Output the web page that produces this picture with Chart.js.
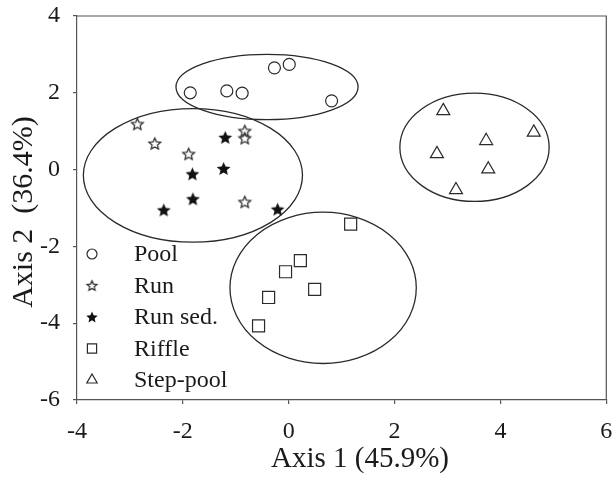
<!DOCTYPE html>
<html>
<head>
<meta charset="utf-8">
<script src="https://cdn.jsdelivr.net/npm/chart.js@4/dist/chart.umd.min.js"></script>
<style>
  html, body { margin: 0; padding: 0; background: #fff; }
  #wrap { width: 616px; height: 480px; }
</style>
</head>
<body>
<div id="wrap"><canvas id="c" width="616" height="480"></canvas></div>
<script>
// ─── Data ─────────────────────────────────────────────

const GROUPS = ['Pool', 'Run', 'Run sed.', 'Riffle', 'Step-pool'];

const POOL_X = [-1.86, -1.17, -0.88, -0.27, 0.01, 0.81];
const POOL_Y = [2.00, 2.05, 1.99, 2.65, 2.74, 1.79];

const RUN_X = [-2.86, -2.53, -1.89, -0.83, -0.83, -0.83];
const RUN_Y = [1.19, 0.68, 0.41, 1.01, 0.82, -0.84];

const RUNSED_X = [-1.20, -1.23, -1.82, -1.81, -2.36, -0.21];
const RUNSED_Y = [0.84, 0.03, -0.11, -0.76, -1.05, -1.03];

const RIFFLE_X = [1.17, 0.22, -0.06, 0.49, -0.38, -0.57];
const RIFFLE_Y = [-1.42, -2.37, -2.66, -3.12, -3.33, -4.07];

const STEP_X = [2.92, 4.63, 3.73, 2.80, 3.77, 3.16];
const STEP_Y = [1.53, 0.97, 0.75, 0.41, 0.01, -0.53];

// group ellipses: Pool, Run (+Run sed.), Riffle, Step-pool
const ELL_CX = [-0.41, -1.81, 0.65, 3.51];
const ELL_CY = [2.15, -0.15, -3.08, 0.58];
const ELL_RX = [1.72, 2.07, 1.76, 1.41];
const ELL_RY = [0.85, 1.74, 1.97, 1.41];

const X_TICKS = [-4, -2, 0, 2, 4, 6];
const Y_TICKS = [-6, -4, -2, 0, 2, 4];

const X_TITLE = 'Axis 1 (45.9%)';
const Y_TITLE = 'Axis 2  (36.4%)';

// ─── Helpers ──────────────────────────────────────────

const INK = '#2a2a2a';
const FONT = "'Liberation Serif', 'DejaVu Serif', serif";

function pts(xs, ys) { return xs.map((x, i) => ({ x, y: ys[i] })); }

function starCanvas(r, filled) {
  const size = Math.ceil(r * 2 + 4);
  const c = document.createElement('canvas');
  c.width = c.height = size;
  const g = c.getContext('2d');
  g.translate(size / 2, size / 2 + r * 0.1);
  g.beginPath();
  for (let i = 0; i < 10; i++) {
    const a = -Math.PI / 2 + i * Math.PI / 5;
    const rr = i % 2 ? r * 0.46 : r;
    g.lineTo(Math.cos(a) * rr, Math.sin(a) * rr);
  }
  g.closePath();
  if (filled) { g.fillStyle = '#111'; g.fill(); }
  else { g.strokeStyle = INK; g.lineWidth = 1.2; g.stroke(); }
  return c;
}

const STAR_OPEN = starCanvas(6.2, false);
const STAR_FULL = starCanvas(7.2, true);
const STAR_OPEN_S = starCanvas(5.2, false);
const STAR_FULL_S = starCanvas(6, true);

const STYLES = [
  { pointStyle: 'circle',   radius: 6,   legend: 'circle',    lr: 5 },
  { pointStyle: STAR_OPEN,  radius: 6,   legend: STAR_OPEN_S, lr: 5 },
  { pointStyle: STAR_FULL,  radius: 6,   legend: STAR_FULL_S, lr: 5 },
  { pointStyle: 'rect',     radius: 8.5, legend: 'rect',      lr: 6.5 },
  { pointStyle: 'triangle', radius: 7.5, legend: 'triangle',  lr: 6 },
];

const SERIES = [
  pts(POOL_X, POOL_Y), pts(RUN_X, RUN_Y), pts(RUNSED_X, RUNSED_Y),
  pts(RIFFLE_X, RIFFLE_Y), pts(STEP_X, STEP_Y),
];

// ─── Plugins ──────────────────────────────────────────

const ellipses = {
  id: 'ellipses',
  beforeDatasetsDraw(chart) {
    const { ctx, scales: { x, y } } = chart;
    ctx.save();
    ctx.strokeStyle = INK;
    ctx.lineWidth = 1.3;
    ELL_CX.forEach((cx, i) => {
      const px = x.getPixelForValue(cx), py = y.getPixelForValue(ELL_CY[i]);
      const rx = Math.abs(x.getPixelForValue(cx + ELL_RX[i]) - px);
      const ry = Math.abs(y.getPixelForValue(ELL_CY[i] + ELL_RY[i]) - py);
      ctx.beginPath();
      ctx.ellipse(px, py, rx, ry, 0, 0, Math.PI * 2);
      ctx.stroke();
    });
    ctx.restore();
  },
};

const frame = {
  id: 'frame',
  afterDraw(chart) {
    const { ctx, chartArea: a } = chart;
    ctx.save();
    // top + right edges of the box
    ctx.strokeStyle = '#555';
    ctx.lineWidth = 1.2;
    ctx.beginPath();
    ctx.moveTo(a.left, a.top);
    ctx.lineTo(a.right, a.top);
    ctx.lineTo(a.right, a.bottom);
    ctx.stroke();

    // legend inside the plot, bottom left
    ctx.font = '24px ' + FONT;
    ctx.textBaseline = 'middle';
    GROUPS.forEach((name, i) => {
      const ly = a.bottom - 20 - (GROUPS.length - 1 - i) * 31.5;
      const st = STYLES[i];
      ctx.strokeStyle = INK;
      ctx.fillStyle = 'rgba(0,0,0,0)';
      ctx.lineWidth = 1.2;
      Chart.helpers.drawPoint(ctx, { pointStyle: st.legend, radius: st.lr, rotation: 0, borderWidth: 1.2 }, a.left + 15, ly);
      ctx.fillStyle = '#1a1a1a';
      ctx.fillText(name, a.left + 57, ly + 1);
    });

    // axis titles
    ctx.textAlign = 'center';
    ctx.textBaseline = 'alphabetic';
    ctx.font = '29px ' + FONT;
    ctx.fillText(X_TITLE, 360, 467);
    ctx.translate(32, 212);
    ctx.rotate(-Math.PI / 2);
    ctx.font = '30px ' + FONT;
    ctx.fillText(Y_TITLE, 0, 0);
    ctx.restore();
  },
};

// ─── Chart ────────────────────────────────────────────

const axisCommon = {
  type: 'linear',
  grid: { drawOnChartArea: false, tickLength: 4, color: '#555', lineWidth: 1.2 },
  border: { display: true, color: '#555', width: 1.2 },
};

new Chart(document.getElementById('c'), {
  type: 'scatter',
  data: {
    datasets: SERIES.map((data, i) => ({
      label: GROUPS[i],
      data,
      pointStyle: STYLES[i].pointStyle,
      pointRadius: STYLES[i].radius,
      pointHoverRadius: STYLES[i].radius,
      pointBackgroundColor: 'rgba(0,0,0,0)',
      pointBorderColor: INK,
      pointBorderWidth: 1.2,
    })),
  },
  options: {
    responsive: false,
    animation: false,
    layout: { padding: { top: 16, right: 8, left: 0, bottom: 0 } },
    scales: {
      x: {
        ...axisCommon,
        min: -4, max: 6,
        afterBuildTicks: s => { s.ticks = X_TICKS.map(v => ({ value: v })); },
        afterFit: s => { s.height = 80; s.paddingLeft = 0; s.paddingRight = 0; },
        ticks: { color: '#1a1a1a', padding: 13, maxRotation: 0, font: { family: FONT, size: 24 } },
      },
      y: {
        ...axisCommon,
        min: -6, max: 4,
        afterBuildTicks: s => { s.ticks = Y_TICKS.map(v => ({ value: v })); },
        afterFit: s => { s.width = 77; s.paddingTop = 0; s.paddingBottom = 0; },
        ticks: { color: '#1a1a1a', padding: 13, font: { family: FONT, size: 24 } },
      },
    },
    plugins: {
      legend: { display: false },
      tooltip: { enabled: false },
    },
  },
  plugins: [ellipses, frame],
});
</script>
</body>
</html>
